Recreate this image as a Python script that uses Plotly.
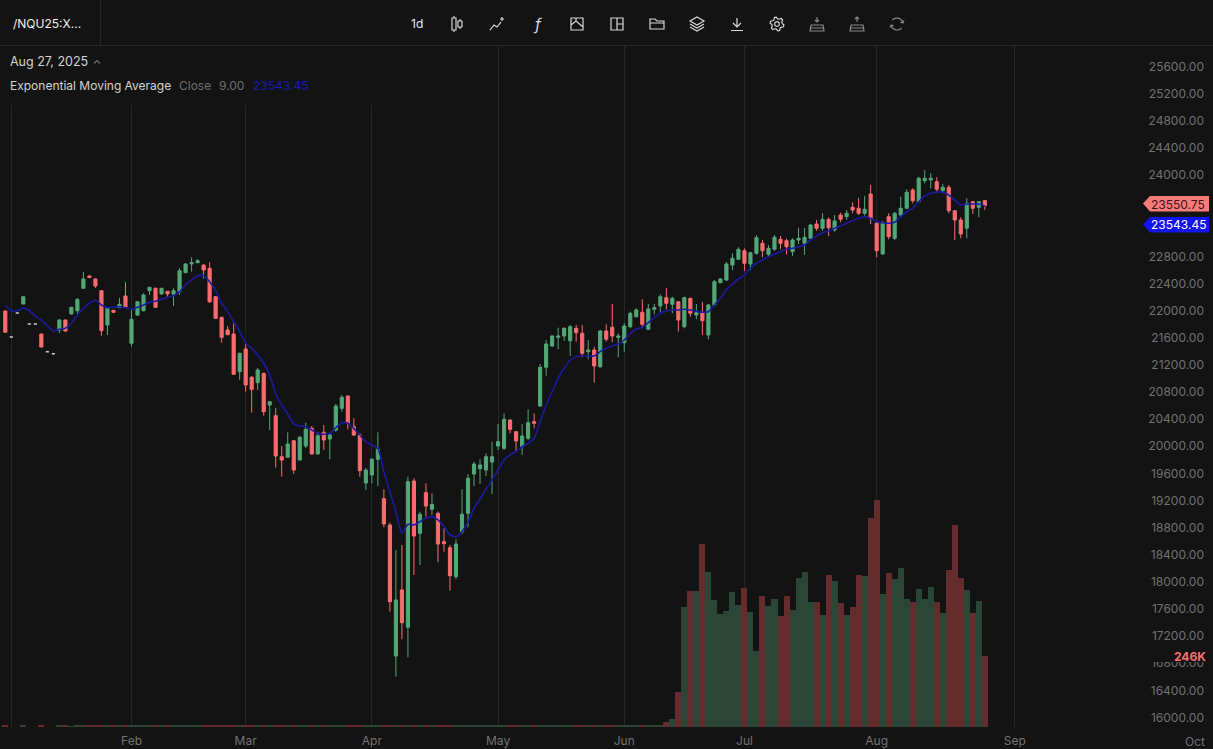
import math
import re
import plotly.graph_objects as go

W, H = 1213, 749
TOP, BOTTOM = 46, 22

# daily session data
opens = [21995, 21612, 21966, 22098, 21803, 21803, 21656, 21395, 21365, 21715,
         21862, 21951, 21999, 22330, 22511, 22467, 22294, 21789, 22005, 22044,
         22216, 21519, 21936, 21999, 22294, 22330, 22246, 22286, 22246, 22280,
         22560, 22688, 22707, 22673, 22625, 22206, 21902, 21715, 21656, 21100,
         21435, 21017, 20938, 21076, 20609, 20451, 19846, 19838, 20082, 19798,
         20004, 20265, 19886, 20206, 20107, 20240, 20560, 20742, 20289, 20166,
         19459, 19576, 19808, 19227, 18839, 16907, 17881, 17331, 19488, 18717,
         19315, 19071, 19012, 18593, 18504, 18077, 18740, 19012, 19591, 19670,
         19650, 19768, 20004, 19970, 20388, 20215, 19994, 20118, 20363, 20594,
         21165, 21479, 21607, 21626, 21557, 21740, 21666, 21395, 21420, 21174,
         21700, 21755, 21607, 21528, 21764, 21911, 21976, 21725, 22020, 22069,
         22191, 22094, 22132, 21764, 22182, 21936, 21970, 21641, 22083, 22412,
         22452, 22673, 22757, 22884, 22688, 22846, 22993, 22831, 22905, 23052,
         23032, 22870, 23042, 22993, 23067, 23278, 23215, 23347, 23190, 23411,
         23386, 23524, 23510, 23436, 23720, 23288, 22836, 23386, 23067, 23411,
         23510, 23779, 23607, 23917, 23927, 23902, 23769, 23819, 23474, 23337,
         23215, 23607, 23524, 23622]
highs = [22000, 21612, 21966, 22206, 21803, 21803, 21660, 21395, 21365, 21875,
         21870, 22055, 22180, 22570, 22520, 22475, 22300, 22040, 22010, 22187,
         22418, 22010, 22140, 22256, 22350, 22340, 22335, 22290, 22330, 22625,
         22700, 22787, 22757, 22680, 22713, 22215, 21910, 21774, 21814, 21380,
         21508, 21036, 21155, 21085, 20668, 20565, 20004, 20206, 20090, 20152,
         20348, 20299, 20210, 20314, 20196, 20624, 20756, 20750, 20413, 20196,
         19680, 19827, 20206, 19366, 18873, 18470, 18544, 19551, 19528, 19035,
         19454, 19307, 19035, 18791, 18544, 18628, 19366, 19591, 19773, 19808,
         19896, 20068, 20329, 20487, 20395, 20225, 20329, 20545, 20487, 21213,
         21567, 21641, 21749, 21752, 21789, 21789, 21789, 21567, 21469, 21715,
         21799, 22098, 21666, 21814, 21985, 22035, 22168, 22098, 22098, 22241,
         22330, 22206, 22140, 22206, 22190, 22098, 22132, 22098, 22452, 22482,
         22718, 22846, 22934, 22920, 22865, 23116, 23042, 22968, 23116, 23101,
         23061, 23067, 23223, 23219, 23278, 23337, 23436, 23377, 23411, 23445,
         23485, 23598, 23666, 23691, 23853, 23308, 23322, 23436, 23455, 23681,
         23790, 23805, 23976, 24074, 24026, 23967, 23868, 23853, 23485, 23377,
         23657, 23617, 23617, 23632]
lows = [21675, 21612, 21966, 22098, 21803, 21803, 21460, 21395, 21365, 21671,
        21690, 21945, 21951, 22325, 22480, 22334, 21631, 21641, 21970, 22039,
        22039, 21469, 21921, 21990, 22231, 22040, 22240, 22206, 22069, 22231,
        22555, 22575, 22700, 22477, 22113, 21880, 21528, 21640, 21055, 20977,
        20805, 20495, 20830, 20451, 20240, 19684, 19551, 19827, 19591, 19790,
        19975, 19880, 19880, 19945, 19808, 20215, 20510, 20250, 20152, 19551,
        19355, 19454, 19414, 18805, 17561, 16602, 17154, 16888, 18102, 18249,
        18962, 18987, 18289, 18445, 17870, 18039, 18706, 18805, 19414, 19444,
        19562, 19296, 19945, 19945, 20191, 19935, 19872, 20093, 20265, 20585,
        21041, 21464, 21430, 21553, 21331, 21542, 21312, 21283, 20938, 21155,
        21542, 21533, 21312, 21395, 21740, 21896, 21755, 21715, 21946, 21976,
        22020, 21961, 21690, 21740, 21911, 21873, 21641, 21578, 22069, 22408,
        22437, 22600, 22747, 22589, 22600, 22821, 22787, 22796, 22884, 22905,
        22831, 22806, 22983, 22821, 23057, 23179, 23179, 23101, 23165, 23303,
        23337, 23436, 23411, 23400, 23278, 22787, 22821, 23052, 23042, 23377,
        23499, 23583, 23603, 23878, 23805, 23740, 23731, 23436, 23042, 23067,
        23067, 23426, 23377, 23485]
closes = [21681, 21612, 21966, 22206, 21803, 21803, 21464, 21395, 21365, 21862,
          21700, 22050, 22168, 22467, 22489, 22364, 21705, 22035, 21976, 22094,
          22058, 21873, 22132, 22231, 22345, 22050, 22330, 22246, 22294, 22589,
          22688, 22707, 22737, 22600, 22132, 21887, 21607, 21646, 21062, 21371,
          20904, 20840, 21125, 20510, 20657, 19857, 19798, 20034, 19650, 20133,
          20250, 19886, 20156, 20093, 20166, 20594, 20722, 20339, 20166, 19640,
          19650, 19808, 19960, 18854, 17708, 17733, 17398, 19478, 18677, 18997,
          19119, 19144, 18559, 18564, 18092, 18559, 18997, 19528, 19739, 19724,
          19846, 19846, 20068, 20398, 20250, 20078, 20152, 20348, 20339, 21165,
          21508, 21626, 21626, 21740, 21764, 21675, 21371, 21420, 21184, 21700,
          21578, 21626, 21626, 21774, 21961, 22010, 21799, 22025, 22044, 22206,
          22109, 22182, 21862, 22191, 21961, 21970, 21852, 22083, 22427, 22467,
          22688, 22772, 22905, 22699, 22855, 23076, 22884, 22920, 23082, 22993,
          22943, 23042, 23067, 23082, 23263, 23215, 23347, 23223, 23322, 23347,
          23436, 23485, 23436, 23495, 23362, 22884, 23297, 23091, 23436, 23510,
          23746, 23622, 23952, 23952, 23952, 23790, 23819, 23474, 23337, 23131,
          23583, 23510, 23607, 23550.75]
ema = [22083, 21999, 21999, 22039, 21999, 21921, 21862, 21774, 21700, 21725,
       21740, 21814, 21936, 22035, 22109, 22157, 22083, 22044, 22050, 22058,
       22044, 22020, 22050, 22083, 22123, 22138, 22168, 22197, 22221, 22280,
       22379, 22452, 22516, 22516, 22427, 22294, 22109, 21985, 21837, 21690,
       21519, 21445, 21346, 21224, 21051, 20771, 20609, 20476, 20329, 20299,
       20289, 20240, 20191, 20177, 20191, 20274, 20348, 20339, 20265, 20166,
       20068, 20019, 19970, 19625, 19330, 19035, 18717, 18850, 18839, 18888,
       18938, 18962, 18913, 18814, 18692, 18667, 18740, 18888, 19085, 19223,
       19366, 19503, 19650, 19798, 19872, 19920, 19994, 20044, 20122, 20363,
       20609, 20805, 21003, 21150, 21272, 21321, 21331, 21331, 21331, 21395,
       21445, 21479, 21508, 21567, 21666, 21725, 21755, 21823, 21902, 21961,
       21995, 22010, 22010, 22020, 22010, 21991, 21976, 21985, 22083, 22182,
       22305, 22393, 22467, 22526, 22625, 22699, 22747, 22796, 22836, 22870,
       22905, 22920, 22943, 22968, 23042, 23101, 23150, 23179, 23215, 23253,
       23288, 23327, 23362, 23386, 23362, 23312, 23297, 23288, 23303, 23386,
       23459, 23510, 23607, 23691, 23731, 23750, 23746, 23706, 23632, 23558,
       23573, 23573, 23573, 23543.45]
volume = [5, 0, 0, 4, 0, 0, 5, 0, 0, 4,
          5, 3, 4, 5, 4, 4, 6, 5, 4, 4,
          5, 6, 4, 5, 4, 5, 4, 5, 4, 6,
          5, 4, 5, 4, 6, 5, 5, 4, 6, 5,
          6, 5, 5, 6, 5, 6, 5, 5, 6, 5,
          5, 6, 5, 5, 5, 5, 5, 6, 5, 6,
          6, 6, 6, 6, 7, 8, 7, 8, 7, 6,
          6, 5, 6, 5, 5, 6, 6, 6, 5, 5,
          5, 5, 5, 5, 5, 5, 5, 5, 5, 5,
          5, 5, 5, 5, 5, 5, 5, 5, 5, 5,
          5, 5, 5, 5, 5, 5, 5, 5, 6, 8,
          17, 29, 122, 418, 473, 473, 636, 539, 441, 392,
          404, 470, 423, 484, 400, 264, 455, 420, 444, 385,
          455, 408, 520, 539, 435, 435, 389, 528, 508, 433,
          389, 418, 528, 524, 728, 789, 464, 536, 516, 554,
          447, 435, 479, 447, 487, 435, 397, 545, 702, 520,
          478, 397, 437, 246]

# axis labels, positions are session numbers
month_ticks = [1, 21, 40, 61, 82, 103, 123, 145, 168]
month_labels = ["", "Feb", "Mar", "Apr", "May", "Jun", "Jul", "Aug", "Sep"]
# 23200 and 23600 sit under the two price flags
price_ticks = [16000, 16400, 16800, 17200, 17600, 18000, 18400, 18800, 19200, 19600,
               20000, 20400, 20800, 21200, 21600, 22000, 22400, 22800, 24000, 24400,
               24800, 25200, 25600]

BG = "#131313"
GRID = "#262626"
RULE = "#272727"
UP = "#52a877"
DOWN = "#fb6c6e"
UP_VOL = "#2b4536"
DOWN_VOL = "#652c2d"
EMA_BLUE = "#1a1aa4"
AXIS_TEXT = "#727272"
FONT = "Inter"

sessions = list(range(len(closes)))
real = [i for i in sessions if opens[i] != closes[i]]
doji = [i for i in sessions if opens[i] == closes[i]]


def pick(values, idx):
    return [values[i] for i in idx]


# chrome is laid out in page pixels
def px(x):
    return x / W


def py(y):
    return (H - BOTTOM - y) / (H - BOTTOM - TOP)


def icon(cx, cy, path, color="#d8d8d8", width=1.2):
    # numbers in path are x,y pairs relative to the icon centre
    out = []
    count = 0
    for tok in re.findall(r"[A-Za-z]|-?\d+\.?\d*", path):
        if tok.isalpha():
            out.append(tok)
        else:
            val = float(tok)
            if count % 2 == 0:
                out.append(f"{px(cx + val):.5f}")
            else:
                out.append(f"{py(cy + val):.5f}")
            count += 1
    return dict(type="path", xref="paper", yref="paper", path=" ".join(out),
                line=dict(color=color, width=width), fillcolor="rgba(0,0,0,0)", layer="above")


def note(x, y, text, color, size=12, anchor="left", **kw):
    return dict(xref="paper", yref="paper", x=px(x), y=py(y), text=text, showarrow=False,
                xanchor=anchor, yanchor="middle", font=dict(color=color, size=size, family=FONT), **kw)


def ring(radius, start=0, stop=360, step=30):
    pts = [(radius * math.cos(math.radians(a)), radius * math.sin(math.radians(a)))
           for a in range(start, stop + 1, step)]
    return "M " + " L ".join(f"{a:.2f} {b:.2f}" for a, b in pts)


def gear():
    pts = []
    for k in range(24):
        r = 7 if k % 4 in (0, 1) else 5.2
        a = math.radians(k * 15 + 8)
        pts.append(f"{r * math.cos(a):.2f} {r * math.sin(a):.2f}")
    return "M " + " L ".join(pts) + " Z " + ring(2.4)


fig = go.Figure()

fig.add_trace(go.Bar(
    x=sessions, y=volume, yaxis="y2", width=1.0,
    marker=dict(color=[UP_VOL if closes[i] >= opens[i] else DOWN_VOL for i in sessions], line_width=0),
    showlegend=False, hoverinfo="skip",
))
fig.add_trace(go.Candlestick(
    x=real, open=pick(opens, real), high=pick(highs, real), low=pick(lows, real), close=pick(closes, real),
    increasing=dict(line=dict(color=UP, width=1), fillcolor=UP),
    decreasing=dict(line=dict(color=DOWN, width=1), fillcolor=DOWN),
    whiskerwidth=0, showlegend=False,
))
fig.add_trace(go.Candlestick(
    x=doji, open=pick(opens, doji), high=pick(highs, doji), low=pick(lows, doji), close=pick(closes, doji),
    increasing=dict(line=dict(color="#cfcfcf", width=1.6), fillcolor="#cfcfcf"),
    decreasing=dict(line=dict(color="#cfcfcf", width=1.6), fillcolor="#cfcfcf"),
    whiskerwidth=0, showlegend=False,
))
fig.add_trace(go.Scatter(
    x=sessions, y=ema, mode="lines", line=dict(color=EMA_BLUE, width=1.6, shape="spline", smoothing=0.6),
    showlegend=False,
))

shapes = [
    # panel behind the legend hides the grid lines there
    dict(type="rect", xref="paper", yref="paper", x0=0, x1=px(430), y0=py(105), y1=py(46),
         fillcolor=BG, line_width=0, layer="above"),
    dict(type="line", xref="paper", yref="paper", x0=0, x1=1, y0=py(45.5), y1=py(45.5),
         line=dict(color=RULE, width=1), layer="above"),
    dict(type="line", xref="paper", yref="paper", x0=px(100.5), x1=px(100.5), y0=py(0), y1=py(46),
         line=dict(color=RULE, width=1), layer="above"),
    # patch behind the volume readout
    dict(type="rect", xref="paper", yref="paper", x0=px(1140), x1=1, y0=py(662), y1=py(649),
         fillcolor=BG, line_width=0, layer="above"),
    dict(type="path", xref="paper", yref="paper", layer="above", fillcolor="#fb7a7a", line_width=0,
         path=f"M {px(1143):.5f} {py(203.5):.5f} L {px(1150):.5f} {py(196):.5f} L {px(1209):.5f} {py(196):.5f} "
              f"L {px(1209):.5f} {py(211.5):.5f} L {px(1150):.5f} {py(211.5):.5f} Z"),
    dict(type="path", xref="paper", yref="paper", layer="above", fillcolor="#1414f0", line_width=0,
         path=f"M {px(1143):.5f} {py(224.5):.5f} L {px(1150):.5f} {py(217):.5f} L {px(1209):.5f} {py(217):.5f} "
              f"L {px(1209):.5f} {py(232.5):.5f} L {px(1150):.5f} {py(232.5):.5f} Z"),
    icon(97, 62, "M -3 1.5 L 0 -1.5 L 3 1.5", color="#6e6e6e"),
    icon(457, 24, "M -5 -6 L -1 -6 L -1 6 L -5 6 Z M -3 -8 L -3 -6 M -3 6 L -3 8 "
                  "M 1 -3 L 5 -3 L 5 3 L 1 3 Z M 3 -5 L 3 -3 M 3 3 L 3 5"),
    icon(497, 24, "M -7 6 L -3 1 L 0 3 L 4 -2 M 5 -7 L 5 -3 M 3 -5 L 7 -5"),
    icon(577, 24, "M -6 -6 L 6 -6 L 6 6 L -6 6 Z M -6 1 L -1 -3 L 6 3 M -1 -3 L -1 -6"),
    icon(617, 24, "M -6 -6 L 6 -6 L 6 6 L -6 6 Z M 0 -6 L 0 6 M 0 0 L 6 0"),
    icon(657, 24, "M -7 -5 L -2 -5 L 0 -3 L 7 -3 L 7 5 L -7 5 Z M -7 -1 L 7 -1"),
    icon(697, 24, "M 0 -7 L 7 -3 L 0 1 L -7 -3 Z M -7 0 L 0 4 L 7 0 M -7 3 L 0 7 L 7 3"),
    icon(737, 24, "M 0 -6 L 0 3 M -4 -1 L 0 3 L 4 -1 M -6 6.5 L 6 6.5"),
    icon(777, 24, gear()),
    icon(817, 24, "M -6 1 L 6 1 L 7 7 L -7 7 Z M 0 -7 L 0 -2 M -2 -4 L 0 -2 L 2 -4 M -6 4 L 7 4", color="#8a8a8a"),
    icon(857, 24, "M -6 1 L 6 1 L 7 7 L -7 7 Z M 0 -2 L 0 -7 M -2 -5 L 0 -7 L 2 -5 M -6 4 L 7 4", color="#8a8a8a"),
    icon(897, 24, ring(6, 40, 170, 15) + " " + ring(6, 220, 350, 15)
         + " M 7 -3.5 L 5.8 -1 L 3.4 -2 M -7 3.5 L -5.8 1 L -3.4 2", color="#8a8a8a"),
]

annotations = [
    note(11, 24, "/NQU25:X...", "#f0f0f0"),
    note(417, 24, "1d", "#e8e8e8", anchor="center"),
    note(537, 24, "<i>f</i>", "#d8d8d8", size=16, anchor="center"),
    note(8, 62, "Aug 27, 2025", "#d4d4d4", size=12.5),
    note(8, 85, "Exponential Moving Average", "#d4d4d4"),
    note(177, 85, "Close", "#6f6f6f"),
    note(217, 85, "9.00", "#6f6f6f"),
    note(251, 85, "23543.45", "#1a1ab4"),
    note(1178, 204, "23550.75", "#3a1416", anchor="center"),
    note(1178, 224, "23543.45", "#ffffff", anchor="center"),
    note(1208, 656, "<b>246K</b>", "#f87171", anchor="right"),
    # inside price labels make plotly drop this month label, so it is placed by hand
    note(1195, 741, "Oct", AXIS_TEXT, anchor="center"),
]

fig.update_layout(
    width=W, height=H,
    margin=dict(l=0, r=0, t=TOP, b=BOTTOM, autoexpand=False),
    paper_bgcolor=BG, plot_bgcolor=BG,
    font=dict(family=FONT, color=AXIS_TEXT, size=12),
    showlegend=False, boxmode="overlay", boxgap=0.25, bargap=0,
    hovermode=False, dragmode=False,
    shapes=shapes, annotations=annotations,
    xaxis=dict(
        range=[-0.88, 200.97], rangeslider=dict(visible=False),
        tickmode="array", tickvals=month_ticks, ticktext=month_labels,
        showgrid=True, gridcolor=GRID, gridwidth=1, zeroline=False, showline=False, ticks="",
        tickfont=dict(color=AXIS_TEXT, size=12, family=FONT), ticklabelstandoff=5,
    ),
    yaxis=dict(
        range=[15860, 25903], side="right", ticklabelposition="inside",
        tickmode="array", tickvals=price_ticks, tickformat=".2f",
        showgrid=False, zeroline=False, showline=False, ticks="",
        tickfont=dict(color=AXIS_TEXT, size=12, family=FONT), ticklabelstandoff=6,
    ),
    yaxis2=dict(
        range=[0, 2370], overlaying="y", side="left", visible=False, showgrid=False, zeroline=False,
    ),
)

fig.write_html("out.html", config={"displayModeBar": False},
               post_script="document.body.style.margin='0';document.body.style.background='#131313';")
